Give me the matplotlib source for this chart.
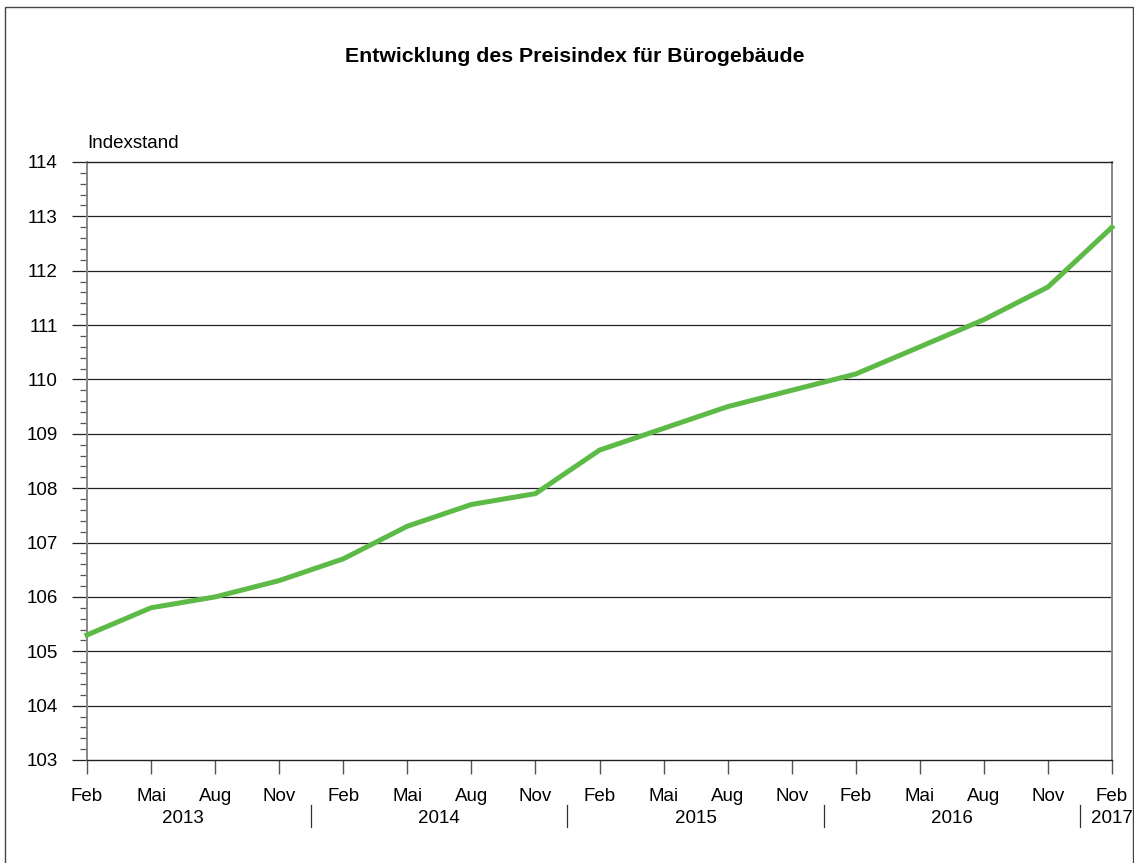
import matplotlib
matplotlib.use("Agg")
import matplotlib.pyplot as plt
import matplotlib.patches as mpatches
from matplotlib.lines import Line2D
from matplotlib.ticker import MultipleLocator

plt.rcParams["font.family"] = ["Liberation Sans", "DejaVu Sans"]

# Daten: Preisindex für Bürogebäude, quartalsweise
monate = ["Feb", "Mai", "Aug", "Nov"] * 4 + ["Feb"]
jahre = ["2013", "2014", "2015", "2016", "2017"]
indexstand = [105.3, 105.8, 106.0, 106.3,
              106.7, 107.3, 107.7, 107.9,
              108.7, 109.1, 109.5, 109.8,
              110.1, 110.6, 111.1, 111.7,
              112.8]

W, H = 1134, 863
fs = 13.5
fig = plt.figure(figsize=(W / 100, H / 100), dpi=100)
ax = fig.add_axes([87 / W, 1 - 760 / H, (1112 - 87) / W, (760 - 162) / H])

x = list(range(len(indexstand)))
ax.plot(x, indexstand, color="#5dba46", lw=3.6, solid_joinstyle="miter", zorder=3, clip_on=False)

ax.set_xlim(0, len(indexstand) - 1)
ax.set_ylim(103, 114)

# Gitterlinien
for v in range(104, 114):
    ax.axhline(v, color="#222222", lw=0.9, zorder=1)

ax.yaxis.set_major_locator(MultipleLocator(1))
ax.yaxis.set_minor_locator(MultipleLocator(0.2))
ax.tick_params(axis="y", which="major", length=11, width=0.9, color="#222222",
               pad=10, labelsize=fs)
ax.tick_params(axis="y", which="minor", length=5, width=0.9, color="#555555")

ax.set_xticks(x)
ax.set_xticklabels(monate)
ax.tick_params(axis="x", length=10, width=1.0, color="#555555", pad=10, labelsize=fs)

for side in ["left", "right"]:
    ax.spines[side].set_color("#888888")
    ax.spines[side].set_linewidth(1.4)
for side in ["top", "bottom"]:
    ax.spines[side].set_color("#222222")
    ax.spines[side].set_linewidth(1.0)

# Jahresbeschriftung und Trennstriche
trans = ax.get_xaxis_transform()
y_jahr = -(818 - 760) / (760 - 162)
for i, jahr in enumerate(jahre[:-1]):
    ax.text(4 * i + 1.5, y_jahr, jahr, ha="center", va="center", fontsize=fs,
            transform=trans)
ax.text(16, y_jahr, jahre[-1], ha="center", va="center", fontsize=fs, transform=trans)
y0 = -(805 - 760) / (760 - 162)
y1 = -(827 - 760) / (760 - 162)
for i in range(4):
    ax.add_line(Line2D([4 * i + 3.5] * 2, [y0, y1], color="#333333", lw=0.9,
                       transform=trans, clip_on=False))

ax.text(0, 1 + (162 - 144) / (760 - 162), "Indexstand", ha="left", va="center",
        fontsize=fs, transform=ax.transAxes)

fig.text(575 / W, 1 - 57 / H, "Entwicklung des Preisindex für Bürogebäude",
         ha="center", va="center", fontsize=15.3, fontweight="bold")

# Rahmen um die Grafik
fig.add_artist(mpatches.Rectangle((5 / W, -0.05), (1133 - 5) / W, 1.05 - 7 / H,
                                  transform=fig.transFigure, fill=False,
                                  edgecolor="#444444", lw=1.0))

fig.savefig("out.png", dpi=100)
